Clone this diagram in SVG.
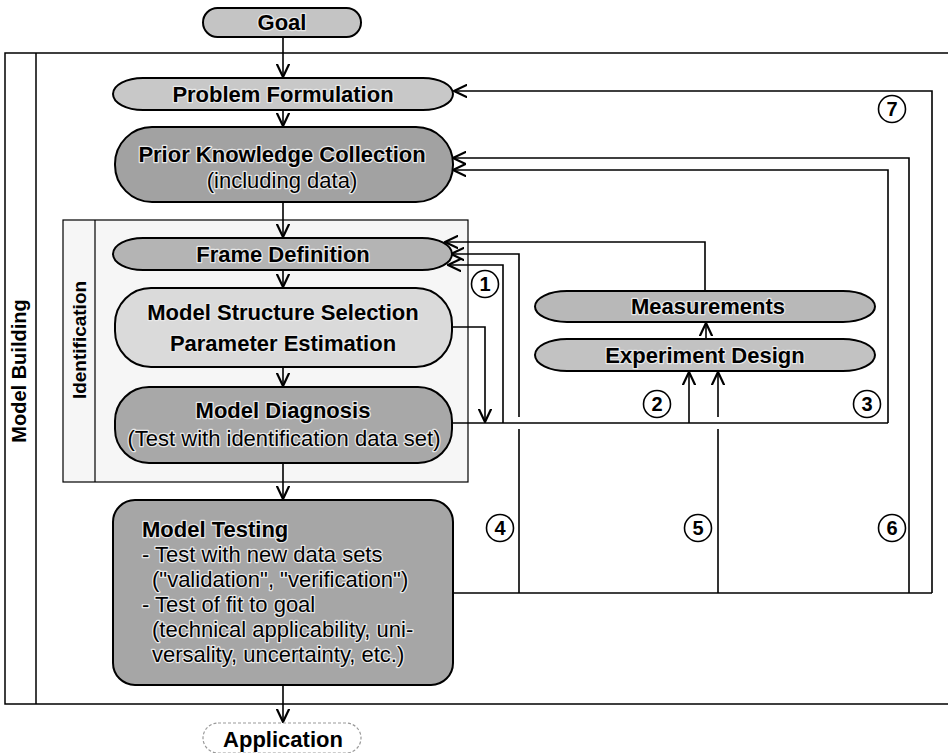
<svg xmlns="http://www.w3.org/2000/svg" width="948" height="753" viewBox="0 0 948 753">
<defs>
<marker id="ah" markerUnits="userSpaceOnUse" markerWidth="14" markerHeight="14" viewBox="0 0 10 10" refX="9.5" refY="5" orient="auto">
<path d="M0,0.5 L9.5,5 L0,9.5" fill="none" stroke="#000" stroke-width="1.6"/>
</marker>
<style>
.nd{stroke:#000;stroke-width:2}
.t{font-family:"Liberation Sans",Arial,sans-serif;font-size:22px;fill:#000;text-anchor:middle}
.b{font-weight:bold}
.h{stroke:#e8e8e8;stroke-width:2.5;paint-order:stroke;stroke-linejoin:round}
.l{font-family:"Liberation Sans",Arial,sans-serif;font-size:22px;fill:#000}
.c{fill:none;stroke:#000;stroke-width:1.6}
.a{marker-end:url(#ah)}
.num circle{fill:#fff;stroke:#000;stroke-width:1.6}
.num text{font-family:"Liberation Sans",Arial,sans-serif;font-size:20px;font-weight:bold;text-anchor:middle;fill:#000}
.frame{fill:none;stroke:#000;stroke-width:1.5}
</style>
</defs>
<rect width="948" height="753" fill="#fff"/>

<g id="model-building">
<path class="frame" d="M948,53 H5 V704 H948 M36,53 V704"/>
<text class="t b" transform="translate(26,371) rotate(-90)" style="font-size:20px">Model Building</text>
</g>

<g id="identification">
<rect x="63" y="220" width="405" height="262" fill="#f6f6f6" stroke="#000" stroke-width="1.2"/>
<line x1="95" y1="220" x2="95" y2="482" stroke="#000" stroke-width="1.2"/>
<text class="t b" transform="translate(86,340) rotate(-90)" style="font-size:19px">Identification</text>
</g>

<g id="connectors">
<path class="c a" d="M283,37 V77"/>
<path class="c a" d="M283,110 V126"/>
<path class="c a" d="M283,202 V237"/>
<path class="c a" d="M283,270 V287"/>
<path class="c a" d="M283,367 V386"/>
<path class="c a" d="M283,463 V499"/>
<path class="c a" d="M283,685 V722"/>
<path class="c a" d="M452,327 H485 V422"/>
<path class="c" d="M452,423 H888"/>
<path class="c a" d="M888,423 V170 H453"/>
<path class="c a" d="M503,423 V265 H448"/>
<path class="c a" d="M689,423 V372"/>
<path class="c a" d="M705,291 V242 H445"/>
<path class="c a" d="M706,339 V323"/>
<path class="c" d="M453,593 H932"/>
<path class="c a" d="M932,593 V91 H454"/>
<path class="c a" d="M909,593 V158 H453"/>
<path class="c" d="M718,593 V429"/>
<path class="c a" d="M718,417 V372"/>
<path class="c" d="M519,593 V429"/>
<path class="c a" d="M519,417 V254 H451"/>
</g>

<g id="goal">
<rect class="nd" x="203" y="8" width="158" height="29" rx="14.5" fill="#c4c4c4"/>
<text class="t b h" x="282" y="30">Goal</text>
</g>

<g id="problem-formulation">
<rect class="nd" x="113" y="78" width="340" height="32" rx="30" ry="16" fill="#c8c8c8"/>
<text class="t b h" x="283" y="102">Problem Formulation</text>
</g>

<g id="prior-knowledge">
<rect class="nd" x="115" y="127" width="338" height="75" rx="37" fill="#a2a2a2"/>
<text class="t b h" x="282" y="162">Prior Knowledge Collection</text>
<text class="t h" x="282" y="188">(including data)</text>
</g>

<g id="frame-definition">
<rect class="nd" x="113" y="238" width="339" height="32" rx="30" ry="16" fill="#b4b4b4"/>
<text class="t b h" x="283" y="262">Frame Definition</text>
</g>

<g id="model-structure">
<rect class="nd" x="115" y="288" width="337" height="79" rx="36" fill="#dadada"/>
<text class="t b h" x="283" y="320">Model Structure Selection</text>
<text class="t b h" x="283" y="351">Parameter Estimation</text>
</g>

<g id="model-diagnosis">
<rect class="nd" x="115" y="387" width="337" height="76" rx="34" fill="#a8a8a8"/>
<text class="t b h" x="283" y="418">Model Diagnosis</text>
<text class="t h" x="284" y="446">(Test with identification data set)</text>
</g>

<g id="model-testing">
<rect class="nd" x="113" y="500" width="340" height="185" rx="22" fill="#a6a6a6"/>
<text class="l b h" x="142" y="537">Model Testing</text>
<text class="l h" x="142" y="562">- Test with new data sets</text>
<text class="l h" x="152" y="587">("validation", "verification")</text>
<text class="l h" x="142" y="612">- Test of fit to goal</text>
<text class="l h" x="152" y="637">(technical applicability, uni-</text>
<text class="l h" x="152" y="662">versality, uncertainty, etc.)</text>
</g>

<g id="measurements">
<rect class="nd" x="535" y="291" width="340" height="31" rx="32" ry="15.5" fill="#b8b8b8"/>
<text class="t b h" x="708" y="314">Measurements</text>
</g>

<g id="experiment-design">
<rect class="nd" x="535" y="339" width="340" height="32" rx="32" ry="16" fill="#c2c2c2"/>
<text class="t b h" x="705" y="363">Experiment Design</text>
</g>

<g id="application">
<rect x="203" y="723" width="158" height="30" rx="15" fill="#fff" stroke="#999" stroke-width="1.2" stroke-dasharray="3,2"/>
<text class="t b" x="283" y="747">Application</text>
</g>

<g id="labels">
<g class="num"><circle cx="485" cy="284" r="13.5"/><text x="485" y="291">1</text></g>
<g class="num"><circle cx="657" cy="404" r="13.5"/><text x="657" y="411">2</text></g>
<g class="num"><circle cx="867" cy="404" r="13.5"/><text x="867" y="411">3</text></g>
<g class="num"><circle cx="500" cy="528" r="13.5"/><text x="500" y="535">4</text></g>
<g class="num"><circle cx="698" cy="528" r="13.5"/><text x="698" y="535">5</text></g>
<g class="num"><circle cx="892" cy="528" r="13.5"/><text x="892" y="535">6</text></g>
<g class="num"><circle cx="892" cy="109" r="13.5"/><text x="892" y="116">7</text></g>
</g>
</svg>
